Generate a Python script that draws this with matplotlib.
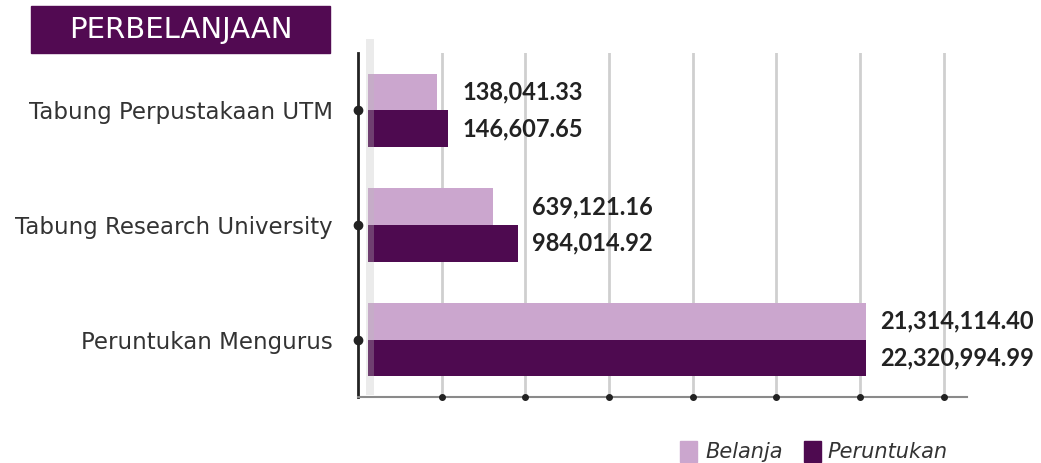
import numpy as np
import matplotlib
matplotlib.use("Agg")
import matplotlib.pyplot as plt
from matplotlib.patches import Rectangle

# data
categories = ["Tabung Perpustakaan UTM", "Tabung Research University", "Peruntukan Mengurus"]
belanja_labels = ["138,041.33", "639,121.16", "21,314,114.40"]
peruntukan_labels = ["146,607.65", "984,014.92", "22,320,994.99"]
# bar end positions in gridline units (the chart has no numeric axis)
belanja_len = [0.94, 1.61, 6.07]
peruntukan_len = [1.08, 1.91, 6.07]
grid_ticks = [1, 2, 3, 4, 5, 6, 7]

LIGHT = "#cba6ce"
DARK = "#4e0a50"
TXT = "#333333"

fig = plt.figure(figsize=(10.41, 4.63), dpi=100)
ax = fig.add_axes([358 / 1041, 66 / 463, (967 - 358) / 1041, 344 / 463])

y = np.arange(len(categories))
h = 0.32
left = 0.12
ax.barh(y - h / 2, np.array(belanja_len) - left, left=left, height=h, color=LIGHT, zorder=3)
ax.barh(y + h / 2, np.array(peruntukan_len) - left, left=left, height=h, color=DARK, zorder=3)

# faint depth strip at the start of the bars
ax.add_patch(Rectangle((0.1, -0.62), 0.09, 3.1, color="#bdbdbd", alpha=0.3, lw=0, zorder=4,
                       clip_on=False))

for i in range(len(categories)):
    x_lab = peruntukan_len[i]
    ax.annotate(belanja_labels[i], (x_lab, y[i] - h / 2), xytext=(10, 0), textcoords="offset points",
                ha="left", va="center", fontsize=17, fontweight="bold", color="#222222",
                family="Lato")
    ax.annotate(peruntukan_labels[i], (x_lab, y[i] + h / 2), xytext=(10, 0), textcoords="offset points",
                ha="left", va="center", fontsize=17, fontweight="bold", color="#222222",
                family="Lato")

ax.set_xlim(0, 7.28)
ax.set_ylim(2.5, -0.5)
for g in grid_ticks:
    ax.axvline(g, color="#cfcfcf", lw=2, zorder=1)

ax.set_yticks(y)
ax.set_yticklabels(categories, fontsize=16.5, color=TXT)
ax.tick_params(axis="y", length=0, pad=18)
ax.set_xticks([])

for s in ["top", "right"]:
    ax.spines[s].set_visible(False)
ax.spines["left"].set_color("#222222")
ax.spines["left"].set_linewidth(2)
ax.spines["bottom"].set_color("#8a8a8a")
ax.spines["bottom"].set_linewidth(1.5)

# dots on the axes
ax.plot(np.zeros(len(y)), y, "o", color="#222222", ms=6, clip_on=False, zorder=6)
ax.plot(grid_ticks, [2.5] * len(grid_ticks), "o", color="#222222", ms=4, clip_on=False, zorder=6)

# title box
fig.patches.append(Rectangle((31 / 1041, 1 - 53 / 463), 299 / 1041, 47 / 463,
                             transform=fig.transFigure, color="#520a52", zorder=0))
fig.text(181 / 1041, 1 - 30 / 463, "PERBELANJAAN", color="white", fontsize=21,
         ha="center", va="center")

# legend
fig.patches.append(Rectangle((680 / 1041, 1 - 462 / 463), 17 / 1041, 21 / 463,
                             transform=fig.transFigure, color=LIGHT))
fig.text(705 / 1041, 1 - 452 / 463, "Belanja", fontsize=15, style="italic", color=TXT,
         ha="left", va="center")
fig.patches.append(Rectangle((804 / 1041, 1 - 462 / 463), 17 / 1041, 21 / 463,
                             transform=fig.transFigure, color=DARK))
fig.text(827 / 1041, 1 - 452 / 463, "Peruntukan", fontsize=15, style="italic", color=TXT,
         ha="left", va="center")

fig.savefig("out.png", dpi=100)
